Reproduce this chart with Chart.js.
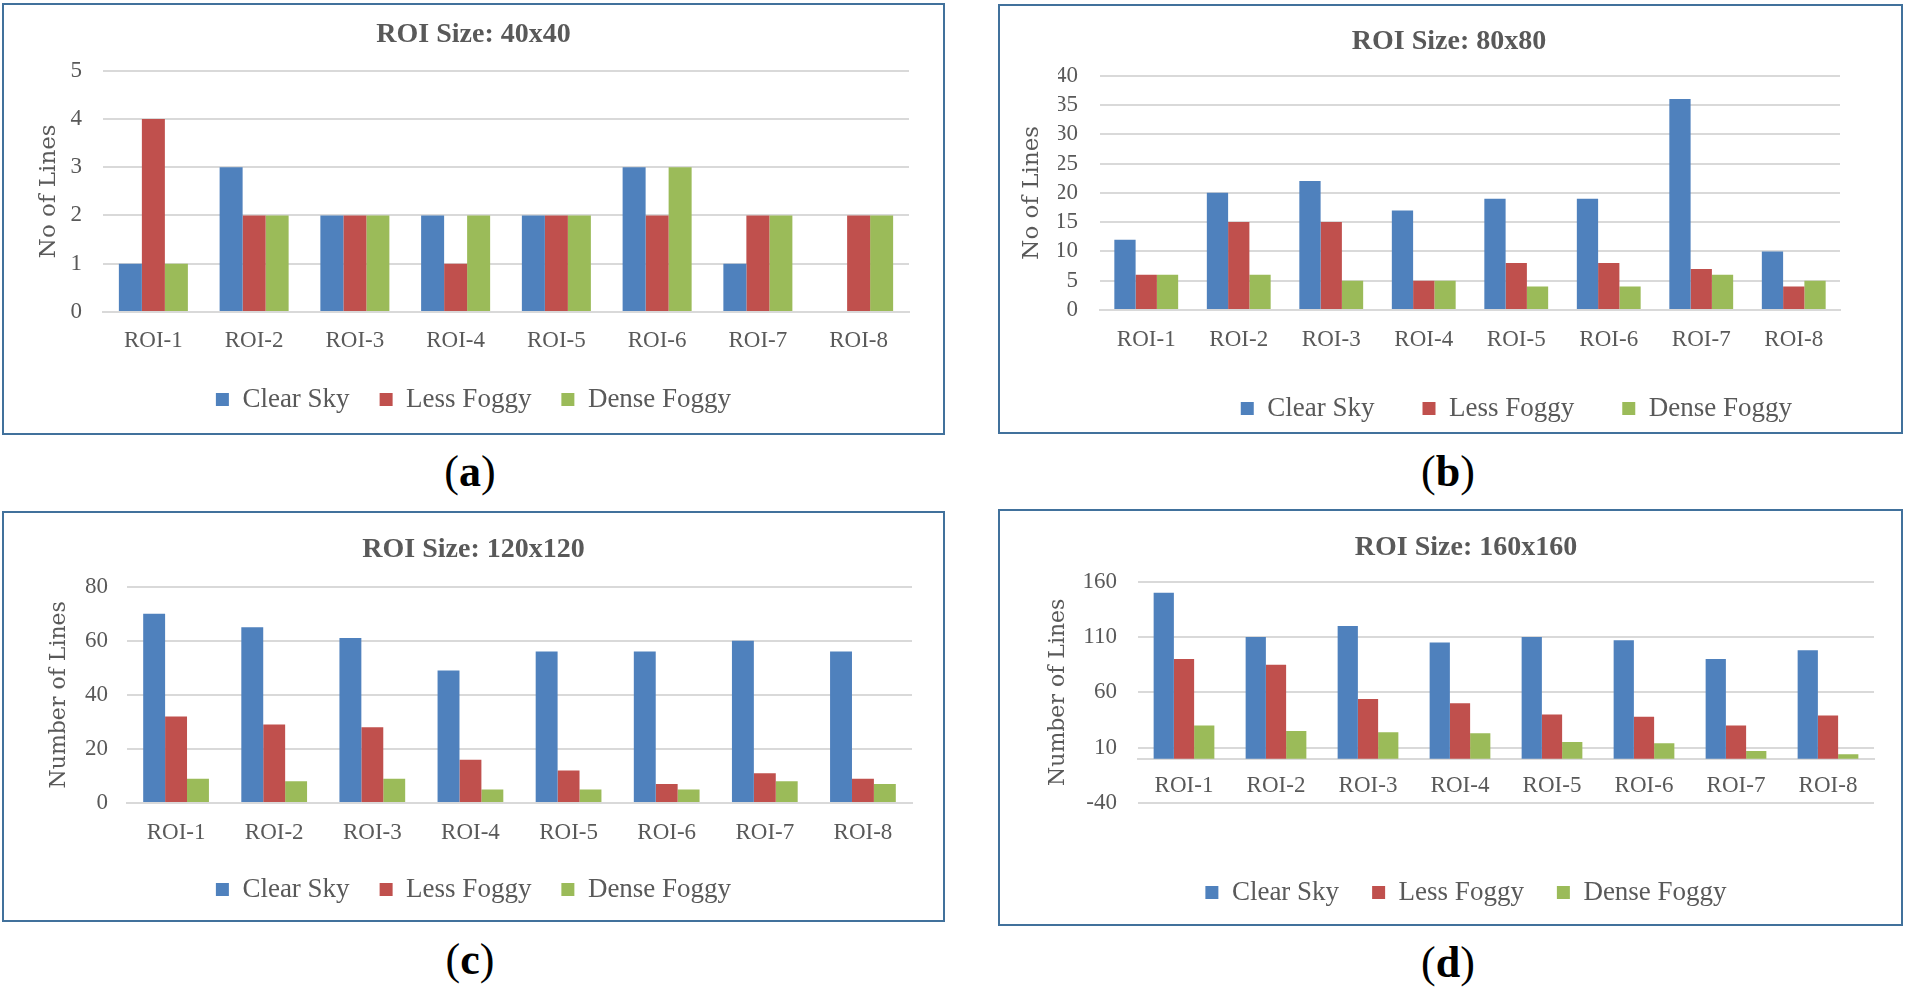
<!DOCTYPE html>
<html>
<head>
<meta charset="utf-8">
<script src="https://cdn.jsdelivr.net/npm/chart.js@4"></script>
<style>
  body { margin: 0; background: #fff; width: 1905px; height: 987px; position: relative; overflow: hidden; }
  .panel { position: absolute; border: 2px solid #41719C; box-sizing: border-box; background: #fff; }
  .panel canvas { position: absolute; left: 0; top: 0; }
  .tag { position: absolute; transform: translate(-50%, -50%); font-family: "Liberation Serif", serif; font-size: 44px; color: #000; }
  .tag b { font-weight: bold; }
</style>
</head>
<body>
<div class="panel" style="left:2px;top:3px;width:943px;height:432px"><canvas id="ca"></canvas></div>
<div class="panel" style="left:998px;top:4px;width:905px;height:430px"><canvas id="cb"></canvas></div>
<div class="panel" style="left:2px;top:511px;width:943px;height:411px"><canvas id="cc"></canvas></div>
<div class="panel" style="left:998px;top:509px;width:905px;height:417px"><canvas id="cd"></canvas></div>
<div class="tag" style="left:470px;top:471px">(<b>a</b>)</div>
<div class="tag" style="left:1448px;top:471px">(<b>b</b>)</div>
<div class="tag" style="left:470px;top:959px">(<b>c</b>)</div>
<div class="tag" style="left:1448px;top:962px">(<b>d</b>)</div>
<script>
const rois = ["ROI-1", "ROI-2", "ROI-3", "ROI-4", "ROI-5", "ROI-6", "ROI-7", "ROI-8"];
const seriesNames = ["Clear Sky", "Less Foggy", "Dense Foggy"];

// ROI Size: 40x40
const clear40 = [1, 3, 2, 2, 2, 3, 1, 0];
const less40 = [4, 2, 2, 1, 2, 2, 2, 2];
const dense40 = [1, 2, 2, 2, 2, 3, 2, 2];

// ROI Size: 80x80
const clear80 = [12, 20, 22, 17, 19, 19, 36, 10];
const less80 = [6, 15, 15, 5, 8, 8, 7, 4];
const dense80 = [6, 6, 5, 5, 4, 4, 6, 5];

// ROI Size: 120x120
const clear120 = [70, 65, 61, 49, 56, 56, 60, 56];
const less120 = [32, 29, 28, 16, 12, 7, 11, 9];
const dense120 = [9, 8, 9, 5, 5, 5, 8, 7];

// ROI Size: 160x160
const clear160 = [150, 110, 120, 105, 110, 107, 90, 98];
const less160 = [90, 85, 54, 50, 40, 38, 30, 39];
const dense160 = [30, 25, 24, 23, 15, 14, 7, 4];

const barColors = ["#4F81BD", "#C0504D", "#9BBB59"];
const textColor = "#595959";
const gridColor = "#D9D9D9";

function spacer(type, position, size) {
  // empty axis that only reserves room
  return {
    type: type, position: position,
    grid: { display: false, drawTicks: false }, border: { display: false },
    ticks: { display: false },
    afterFit: (s) => { if (position === "bottom") s.height = size; else s.width = size; }
  };
}

function chart(canvasId, title, yTitle, values, axis, lay) {
  const cv = document.getElementById(canvasId);
  const panel = cv.parentNode;
  cv.width = panel.clientWidth;
  cv.height = panel.clientHeight;

  const datasets = values.map((v, i) => ({
    label: seriesNames[i],
    data: v,
    backgroundColor: barColors[i],
    categoryPercentage: lay.catPct,
    barPercentage: 1.0
  }));

  const scales = {
    x: {
      position: lay.zeroAxis ? { y: 0 } : "bottom",
      grid: { display: false, drawTicks: false },
      border: { display: true, color: gridColor, width: 2 },
      ticks: { color: textColor, padding: lay.xTickPad, font: { family: "Liberation Serif", size: 23 } },
      afterFit: lay.zeroAxis ? undefined : (s) => { s.height = lay.xHeight; }
    },
    y: {
      min: axis.min, max: axis.max,
      ticks: { stepSize: axis.step, autoSkip: false, color: textColor, padding: lay.yTickPad,
               font: { family: "Liberation Serif", size: 23, lineHeight: 1 } },
      grid: { color: gridColor, lineWidth: 2, drawTicks: false },
      border: { display: false },
      title: { display: true, text: yTitle, color: textColor, padding: { top: lay.yTitlePad, bottom: 0 },
               font: { family: "DejaVu Serif", size: lay.yTitleSize } },
      afterFit: (s) => { s.width = lay.yWidth; }
    }
  };
  if (lay.zeroAxis) scales.xGap = spacer("category", "bottom", lay.xHeight);
  if (lay.rightGap) scales.yGap = spacer("linear", "right", lay.rightGap);

  return new Chart(cv.getContext("2d"), {
    type: "bar",
    data: { labels: rois, datasets: datasets },
    options: {
      responsive: false,
      animation: false,
      layout: { padding: { left: lay.padLeft || 0, right: lay.padRight || 0, top: 0, bottom: lay.padBottom } },
      plugins: {
        title: {
          display: true, text: title, color: textColor,
          font: { family: "Liberation Serif", size: 28, weight: "bold" },
          padding: lay.titlePad
        },
        legend: {
          position: "bottom",
          align: lay.legendAlign || "center",
          labels: {
            boxWidth: 13, boxHeight: 13, padding: lay.legendPad, color: textColor,
            font: { family: "Liberation Serif", size: 27 }
          }
        },
        tooltip: { enabled: false }
      },
      scales: scales
    }
  });
}

chart("ca", "ROI Size: 40x40", "No of Lines", [clear40, less40, dense40],
  { min: 0, max: 5, step: 1 },
  { catPct: 0.685, titlePad: { top: 13, bottom: 19 }, yWidth: 99, yTickPad: 21, yTitlePad: 31, yTitleSize: 23,
    rightGap: 34, xHeight: 44, xTickPad: 15, padBottom: 10, legendPad: 30 });

chart("cb", "ROI Size: 80x80", "No of Lines", [clear80, less80, dense80],
  { min: 0, max: 40, step: 5 },
  { catPct: 0.69, titlePad: { top: 19, bottom: 17 }, padLeft: 58, padRight: 61, yWidth: 42, yTickPad: 22,
    yTitlePad: -40, yTitleSize: 23, xHeight: 37, xTickPad: 16, padBottom: 0, legendPad: 48, legendAlign: "end" });

chart("cc", "ROI Size: 120x120", "Number of Lines", [clear120, less120, dense120],
  { min: 0, max: 80, step: 20 },
  { catPct: 0.67, titlePad: { top: 20, bottom: 20 }, yWidth: 123, yTickPad: 19, yTitlePad: 42, yTitleSize: 22,
    rightGap: 31, xHeight: 43, xTickPad: 16, padBottom: 7, legendPad: 30 });

chart("cd", "ROI Size: 160x160", "Number of Lines", [clear160, less160, dense160],
  { min: -40, max: 160, step: 50 },
  { catPct: 0.66, titlePad: { top: 20, bottom: 17 }, padLeft: 31, yWidth: 107, yTickPad: 21, yTitlePad: 14,
    yTitleSize: 22, rightGap: 27, zeroAxis: true, xHeight: 43, xTickPad: 13, padBottom: 8, legendPad: 33 });
</script>
</body>
</html>
